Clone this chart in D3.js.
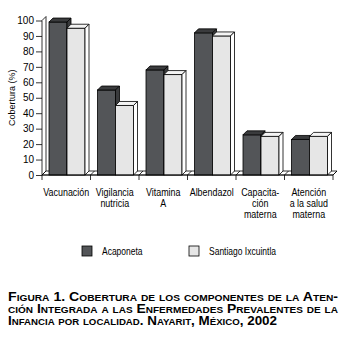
<!DOCTYPE html>
<html>
<head>
<meta charset="utf-8">
<script src="https://cdn.jsdelivr.net/npm/d3@7"></script>
<style>
  body { margin: 0; background: #fff; }
  svg { display: block; }
</style>
</head>
<body>
<div id="chart"></div>
<script>
// categories (multi-line labels) and series values
var categories = ["Vacunación", "Vigilancia nutricia", "Vitamina A", "Albendazol", "Capacitación materna", "Atención a la salud materna"];
var category_lines = [["Vacunación"], ["Vigilancia", "nutricia"], ["Vitamina", "A"], ["Albendazol"], ["Capacita-", "ción", "materna"], ["Atención", "a la salud", "materna"]];
var series_names = ["Acaponeta", "Santiago Ixcuintla"];
var acaponeta = [99, 55, 68, 92, 26, 23];
var santiago = [95, 45, 65, 90, 25, 25];
var y_ticks = [0, 10, 20, 30, 40, 50, 60, 70, 80, 90, 100];
var caption_lines = [
  "Figura 1. Cobertura de los componentes de la Aten-",
  "ción Integrada a las Enfermedades Prevalentes de la",
  "Infancia por localidad. Nayarit, México, 2002"
];

var W = 344, H = 353;
var depth = 4;
var font = "'Liberation Sans', Arial, sans-serif";
var narrow = 0.85; //horizontal squeeze to imitate the condensed face
var front_colors = ["#535558", "#e6e6e6"];
var top_colors = ["#3a3b3d", "#f4f4f4"];
var side_colors = ["#3a3b3d", "#ffffff"];

var svg = d3.select("#chart").append("svg")
  .attr("width", W)
  .attr("height", H);

var x = d3.scaleBand()
  .domain(categories)
  .range([42, 333])
  .paddingInner(0)
  .paddingOuter(0);

var x1 = d3.scaleBand()
  .domain(series_names)
  .range([7, 43]);

var y = d3.scaleLinear()
  .domain([0, 100])
  .range([175, 20.5]);

var base = y(0);

//Floor slab and back wall line
svg.append("path")
  .attr("d", "M42," + base + "L" + (42 + depth) + "," + (base - depth) +
             "H" + (333 + depth) + "L333," + base + "Z")
  .attr("fill", "#fff")
  .attr("stroke", "#000")
  .attr("stroke-width", 0.8);

svg.append("path")
  .attr("d", "M42," + y(100) + "L" + (42 + depth) + "," + (y(100) - depth) +
             "V" + (base - depth))
  .attr("fill", "none")
  .attr("stroke", "#000")
  .attr("stroke-width", 0.8);

//Slanted floor lines at each band boundary
var bounds = categories.map(function(c){ return x(c); }).concat([333]);
svg.append("g").selectAll("line")
  .data(bounds)
  .enter()
  .append("line")
  .attr("x1", function(d){ return d; })
  .attr("y1", base)
  .attr("x2", function(d){ return d + depth; })
  .attr("y2", base - depth)
  .attr("stroke", "#000")
  .attr("stroke-width", 0.8);

//Bars with front, top and side faces
var series = [acaponeta, santiago];
var bar_data = [];
categories.forEach(function(c, i){
  series_names.forEach(function(s, k){
    bar_data.push({cat: c, s: s, k: k, v: series[k][i]});
  });
});

var bars = svg.append("g").selectAll("g")
  .data(bar_data)
  .enter()
  .append("g");

bars.append("rect")
  .attr("x", function(d){ return x(d.cat) + x1(d.s); })
  .attr("y", function(d){ return y(d.v); })
  .attr("width", x1.bandwidth())
  .attr("height", function(d){ return base - y(d.v); })
  .attr("fill", function(d){ return front_colors[d.k]; })
  .attr("stroke", "#000")
  .attr("stroke-width", 0.8);

bars.append("path")
  .attr("d", function(d){
    var x0 = x(d.cat) + x1(d.s), w = x1.bandwidth(), t = y(d.v);
    return "M" + x0 + "," + t + "L" + (x0 + depth) + "," + (t - depth) +
           "H" + (x0 + w + depth) + "L" + (x0 + w) + "," + t + "Z";
  })
  .attr("fill", function(d){ return top_colors[d.k]; })
  .attr("stroke", "#000")
  .attr("stroke-width", 0.8);

bars.append("path")
  .attr("d", function(d){
    var x0 = x(d.cat) + x1(d.s), w = x1.bandwidth(), t = y(d.v);
    return "M" + (x0 + w) + "," + t + "L" + (x0 + w + depth) + "," + (t - depth) +
           "V" + (base - depth) + "L" + (x0 + w) + "," + base + "Z";
  })
  .attr("fill", function(d){ return side_colors[d.k]; })
  .attr("stroke", "#000")
  .attr("stroke-width", 0.8);

//Y axis
var y_axis = d3.axisLeft(y)
  .tickValues(y_ticks)
  .tickSize(6)
  .tickPadding(2)
  .tickFormat(d3.format("d"));

var gy = svg.append("g")
  .attr("transform", "translate(42,0)")
  .call(y_axis);
gy.select(".domain").attr("d", "M0," + y(100) + "V" + base).attr("stroke-width", 0.8);
gy.selectAll(".tick line").attr("stroke-width", 0.8);
gy.selectAll("text")
  .attr("font-family", font)
  .attr("font-size", 10)
  .attr("fill", "#000");

svg.append("text")
  .attr("transform", "translate(15," + y(50) + ") rotate(-90)")
  .attr("text-anchor", "middle")
  .attr("font-family", font)
  .attr("font-size", 9)
  .text("Cobertura (%)");

//X axis line and ticks
svg.append("line")
  .attr("x1", 42).attr("x2", 333)
  .attr("y1", base).attr("y2", base)
  .attr("stroke", "#000")
  .attr("stroke-width", 0.8);

svg.append("g").selectAll("line")
  .data(bounds)
  .enter()
  .append("line")
  .attr("x1", function(d){ return d; })
  .attr("x2", function(d){ return d; })
  .attr("y1", base)
  .attr("y2", base + 5)
  .attr("stroke", "#000")
  .attr("stroke-width", 0.8);

//Category labels
var labels = svg.append("g").selectAll("text")
  .data(categories)
  .enter()
  .append("text")
  .attr("text-anchor", "middle")
  .attr("font-family", font)
  .attr("font-size", 10.5)
  .attr("transform", function(d){
    return "translate(" + (x(d) + x.bandwidth() / 2) + ",195.5) scale(" + narrow + ",1)";
  });

labels.selectAll("tspan")
  .data(function(d, i){ return category_lines[i]; })
  .enter()
  .append("tspan")
  .attr("x", 0)
  .attr("dy", function(d, j){ return j === 0 ? 0 : 11.5; })
  .text(function(d){ return d; });

//Legend
var legend_x = [82, 189];
var legend = svg.append("g").selectAll("g")
  .data(series_names)
  .enter()
  .append("g")
  .attr("transform", function(d, i){ return "translate(" + legend_x[i] + ",246)"; });

legend.append("rect")
  .attr("width", 10)
  .attr("height", 10)
  .attr("fill", function(d, i){ return front_colors[i]; })
  .attr("stroke", "#000")
  .attr("stroke-width", 0.8);

legend.append("text")
  .attr("transform", "translate(20,9) scale(" + narrow + ",1)")
  .attr("font-family", font)
  .attr("font-size", 10)
  .text(function(d){ return d; });

//Caption with small caps
var cap = svg.append("g").selectAll("text")
  .data(caption_lines)
  .enter()
  .append("text")
  .attr("x", 8)
  .attr("y", function(d, i){ return 300.5 + i * 12.4; })
  .attr("font-family", font)
  .attr("font-weight", "bold")
  .attr("font-size", 12.5)
  .style("font-variant", "small-caps")
  .text(function(d){ return d; });

cap.filter(function(d, i){ return i < 2; })
  .attr("textLength", 330)
  .attr("lengthAdjust", "spacingAndGlyphs");
cap.filter(function(d, i){ return i === 2; })
  .attr("textLength", 269)
  .attr("lengthAdjust", "spacingAndGlyphs");
</script>
</body>
</html>
